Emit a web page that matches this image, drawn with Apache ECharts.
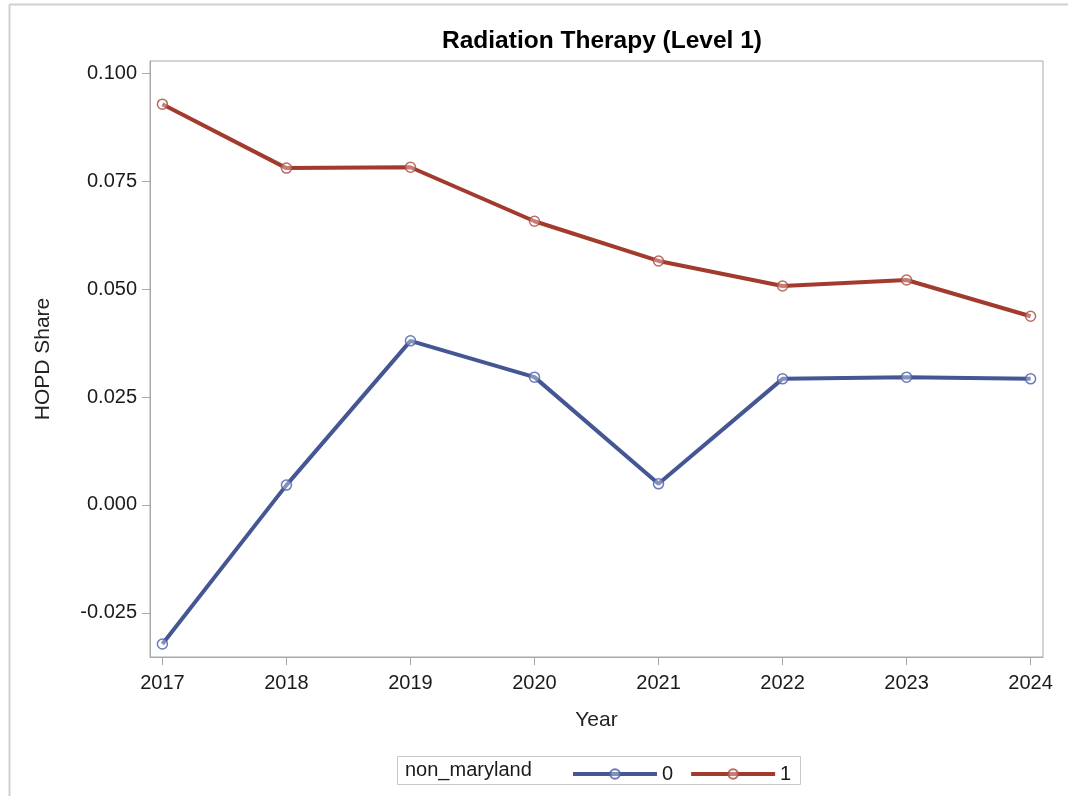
<!DOCTYPE html>
<html>
<head>
<meta charset="utf-8">
<script src="https://cdn.jsdelivr.net/npm/echarts@6/dist/echarts.min.js"></script>
</head>
<body style="margin:0;background:#fff">
<div id="main" style="width:1068px;height:796px;"></div>
<script>
// years on x, HOPD share per group
var years = [2017, 2018, 2019, 2020, 2021, 2022, 2023, 2024];
var group0 = [-0.0322, 0.0046, 0.0380, 0.0296, 0.0049, 0.0292, 0.0296, 0.0292];
var group1 = [0.0928, 0.0780, 0.0782, 0.0657, 0.0565, 0.0507, 0.0521, 0.0437];
var yTicks = [-0.025, 0.000, 0.025, 0.050, 0.075, 0.100];

var font = 'Liberation Sans, Arial, sans-serif';

function pairs(vals) {
    return years.map(function (y, i) { return [y, vals[i]]; });
}

var myChart = echarts.init(document.getElementById('main'));

myChart.setOption({
    animation: false,
    backgroundColor: '#fff',
    title: {
        text: 'Radiation Therapy (Level 1)',
        left: 597,
        top: 24,
        textAlign: 'center',
        textStyle: { fontFamily: font, fontSize: 24.5, fontWeight: 'bold', color: '#000' }
    },
    grid: {
        left: 150, right: 25, top: 61, bottom: 139,
        show: true, borderColor: '#a8a8a8', borderWidth: 1
    },
    xAxis: {
        type: 'value',
        min: 2016.9,
        max: 2024.1,
        name: 'Year',
        nameLocation: 'middle',
        nameGap: 53,
        nameTextStyle: { fontFamily: font, fontSize: 21, color: '#222' },
        splitLine: { show: false },
        axisLine: { show: true, onZero: false, lineStyle: { color: '#a8a8a8' } },
        axisTick: { show: true, length: 8, customValues: years, lineStyle: { color: '#a8a8a8' } },
        axisLabel: {
            customValues: years,
            margin: 16,
            fontFamily: font, fontSize: 20, color: '#1a1a1a',
            formatter: function (v) { return String(v); }
        }
    },
    yAxis: {
        type: 'value',
        min: -0.0352,
        max: 0.1028,
        name: 'HOPD Share',
        nameLocation: 'middle',
        nameGap: 96,
        nameTextStyle: { fontFamily: font, fontSize: 21, color: '#222' },
        splitLine: { show: false },
        axisLine: { show: true, onZero: false, lineStyle: { color: '#a8a8a8' } },
        axisTick: { show: true, length: 8, customValues: yTicks, lineStyle: { color: '#a8a8a8' } },
        axisLabel: {
            customValues: yTicks,
            margin: 13,
            fontFamily: font, fontSize: 20, color: '#1a1a1a',
            formatter: function (v) { return v.toFixed(3); }
        }
    },
    legend: {
        left: 566,
        top: 759,
        itemWidth: 84,
        itemHeight: 12,
        itemGap: 16,
        lineStyle: { width: 4 },
        textStyle: { fontFamily: font, fontSize: 20, color: '#1a1a1a' },
        data: ['0', '1']
    },
    graphic: [
        { type: 'line', shape: { x1: 9.5, y1: 4.5, x2: 1068, y2: 4.5 }, style: { stroke: '#d0d0d0', lineWidth: 2 } },
        { type: 'line', shape: { x1: 9.5, y1: 4.5, x2: 9.5, y2: 796 }, style: { stroke: '#d0d0d0', lineWidth: 2 } },
        { type: 'rect', shape: { x: 397.5, y: 756.5, width: 403, height: 28 }, style: { fill: 'none', stroke: '#c8c8c8', lineWidth: 1 } },
        { type: 'text', left: 405, top: 760, style: { text: 'non_maryland', font: '20px ' + font, fill: '#1a1a1a' } }
    ],
    series: [
        {
            name: '0',
            type: 'line',
            data: pairs(group0),
            symbol: 'circle',
            symbolSize: 10,
            lineStyle: { color: '#445694', width: 4 },
            itemStyle: { color: 'rgba(255,255,255,0.35)', borderColor: 'rgba(80,100,170,0.85)', borderWidth: 1.5 }
        },
        {
            name: '1',
            type: 'line',
            data: pairs(group1),
            symbol: 'circle',
            symbolSize: 10,
            lineStyle: { color: '#A23A2E', width: 4 },
            itemStyle: { color: 'rgba(255,255,255,0.35)', borderColor: 'rgba(176,80,70,0.85)', borderWidth: 1.5 }
        }
    ]
});
</script>
</body>
</html>
